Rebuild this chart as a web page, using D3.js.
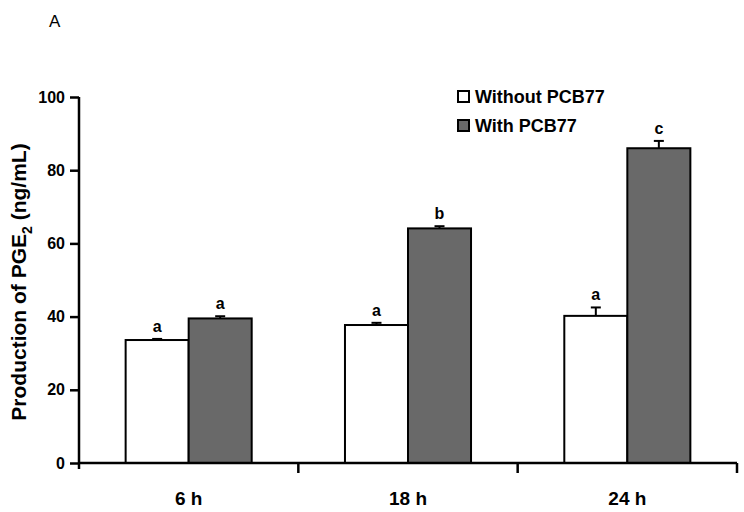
<!DOCTYPE html>
<html><head><meta charset="utf-8">
<script src="https://cdn.jsdelivr.net/npm/d3@7"></script>
<style>body{margin:0;background:#fff;} svg{display:block;font-family:"Liberation Sans",Arial,sans-serif;}</style>
</head><body>
<svg id="c" width="744" height="512"></svg>
<script>
const categories = ["6 h", "18 h", "24 h"];
const seriesNames = ["Without PCB77", "With PCB77"];
const withoutValues = [33.6, 37.7, 40.2];
const withoutErrors = [0.3, 0.6, 2.3];
const withValues = [39.5, 64.1, 86.0];
const withErrors = [0.6, 0.6, 2.0];
const withoutLetters = ["a", "a", "a"];
const withLetters = ["a", "b", "c"];
const yTicks = [0, 20, 40, 60, 80, 100];
const colors = ["#ffffff", "#696969"];

const svg = d3.select("#c");
const m = {l: 79, r: 737, t: 97, b: 463};
const x = d3.scaleBand().domain(categories).range([m.l, m.r]).paddingInner(0).paddingOuter(0);
const xs = d3.scaleBand().domain(seriesNames).range([0, x.bandwidth()]).paddingInner(0).paddingOuter(0.74);
const y = d3.scaleLinear().domain([0, 100]).range([m.b, m.t]);

const rows = categories.map((c, i) => ({c, vals: [
  {s: seriesNames[0], v: withoutValues[i], e: withoutErrors[i], l: withoutLetters[i], col: colors[0]},
  {s: seriesNames[1], v: withValues[i], e: withErrors[i], l: withLetters[i], col: colors[1]}
]}));

const g = svg.selectAll("g.cat").data(rows).join("g").attr("transform", d => `translate(${x(d.c)},0)`);
g.selectAll("g.err").data(d => d.vals).join("g").each(function(d) {
  const cx = xs(d.s) + xs.bandwidth() / 2;
  const s = d3.select(this);
  s.append("line").attr("x1", cx).attr("x2", cx).attr("y1", y(d.v)).attr("y2", y(d.v + d.e)).attr("stroke", "#000").attr("stroke-width", 2);
  s.append("line").attr("x1", cx - 5).attr("x2", cx + 5).attr("y1", y(d.v + d.e)).attr("y2", y(d.v + d.e)).attr("stroke", "#000").attr("stroke-width", 2);
  s.append("text").attr("x", cx).attr("y", y(d.v + d.e) - 7).attr("text-anchor", "middle")
    .attr("font-size", 16).attr("font-weight", "bold").text(d.l);
});
g.selectAll("rect").data(d => d.vals).join("rect")
  .attr("x", d => xs(d.s)).attr("width", xs.bandwidth())
  .attr("y", d => y(d.v)).attr("height", d => y(0) - y(d.v))
  .attr("fill", d => d.col).attr("stroke", "#000").attr("stroke-width", 2);

// y axis
const ya = svg.append("g").attr("transform", `translate(${m.l},0)`)
  .call(d3.axisLeft(y).tickValues(yTicks).tickSize(9).tickPadding(5).tickFormat(d3.format("d")));
ya.select(".domain").attr("stroke-width", 2.5).attr("d", `M0,${m.t}V${m.b + 6}`);
ya.selectAll(".tick line").attr("stroke-width", 2.5);
ya.selectAll("text").attr("font-size", 16).attr("font-weight", "bold").attr("font-family", "Liberation Sans, Arial, sans-serif").attr("fill", "#000");

// x axis
const xa = svg.append("g").attr("transform", `translate(0,${m.b})`);
xa.append("line").attr("x1", m.l).attr("x2", m.r).attr("stroke", "#000").attr("stroke-width", 2.5);
xa.selectAll("line.t").data(categories).join("line").attr("class", "t")
  .attr("x1", d => x(d) + x.bandwidth()).attr("x2", d => x(d) + x.bandwidth())
  .attr("y1", 0).attr("y2", 10).attr("stroke", "#000").attr("stroke-width", 2.5);
xa.selectAll("text").data(categories).join("text")
  .attr("x", d => x(d) + x.bandwidth() / 2).attr("y", 42).attr("text-anchor", "middle")
  .attr("font-size", 19).attr("font-weight", "bold").text(d => d);

// y label
const yl = svg.append("text").attr("transform", `translate(26,${(m.t + m.b) / 2 + 2}) rotate(-90)`)
  .attr("text-anchor", "middle").attr("font-size", 21).attr("font-weight", "bold");
yl.append("tspan").text("Production of PGE");
yl.append("tspan").attr("font-size", 14).attr("dy", 6).text("2");
yl.append("tspan").attr("dy", -6).text(" (ng/mL)");

// legend
const lg = svg.selectAll("g.lg").data(seriesNames).join("g").attr("transform", (d, i) => `translate(458,${91 + i * 29})`);
lg.append("rect").attr("width", 11).attr("height", 11).attr("fill", (d, i) => colors[i]).attr("stroke", "#000").attr("stroke-width", 2);
lg.append("text").attr("x", 17).attr("y", 12).attr("font-size", 18).attr("font-weight", "bold").text(d => d);

// panel letter
svg.append("text").attr("x", 49).attr("y", 27).attr("font-size", 17).text("A");
</script>
</body></html>
